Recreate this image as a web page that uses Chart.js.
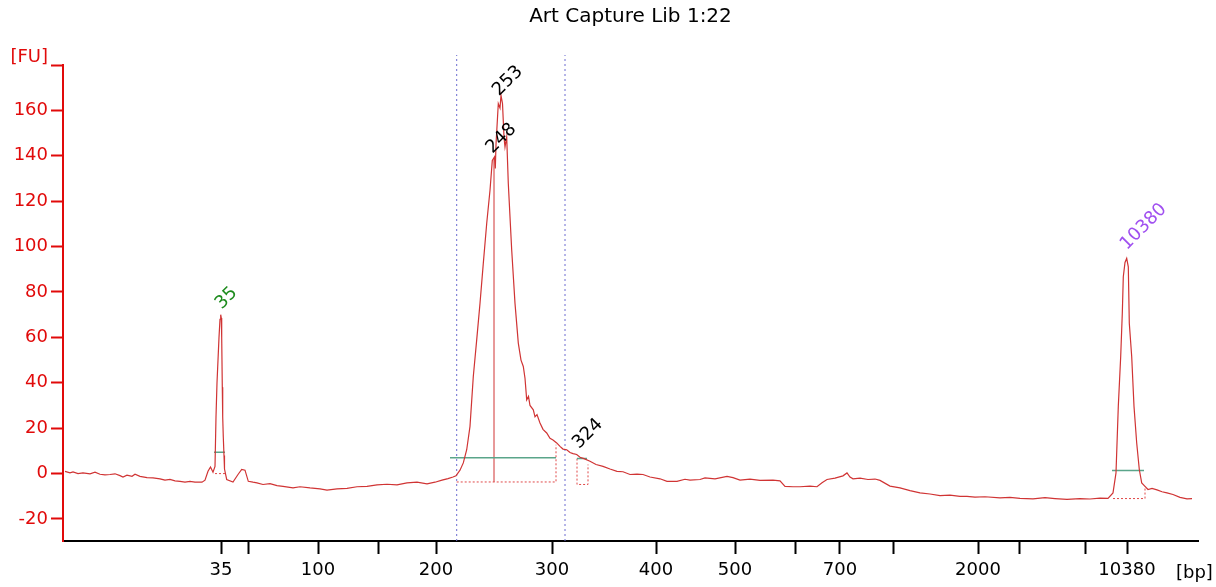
<!DOCTYPE html>
<html>
<head>
<meta charset="utf-8">
<script src="https://cdn.jsdelivr.net/npm/chart.js@4"></script>
<style>
  html, body { margin: 0; padding: 0; background: #fff; }
  #wrap { width: 1216px; height: 587px; }
</style>
</head>
<body>
<div id="wrap"><canvas id="myChart" width="1216" height="587"></canvas></div>
<script>
// electropherogram trace, x = scan position, y = fluorescence [FU]
var traceX = [2, 7, 10, 15, 20, 27, 32, 37, 42, 47, 52, 57, 60, 64, 69, 72, 77, 84, 90, 97,
  102, 107, 112, 117, 122, 127, 132, 139, 142, 145, 147.5, 150, 152, 153, 154, 156, 157, 157.7, 158.3, 158.7,
  159.3, 159.7, 160.3, 161, 161.5, 163.7, 170, 175, 178.7, 182, 185.3, 190, 194, 200, 207, 214, 220, 230, 237, 247,
  257, 264, 274, 284, 294, 304, 314, 324, 334, 344, 354, 364, 372, 379, 385, 390, 393, 397, 400.3, 403.7,
  407, 410.3, 413.7, 417, 420.3, 423.7, 427, 429.3, 431.5, 432.3, 433, 435.3, 437, 438, 439.5, 441, 442, 443.7, 445.3, 448.7,
  452, 455.3, 458, 460.3, 462, 463.7, 465.5, 467, 470.3, 472, 474, 477, 480, 483.7, 487, 490, 493.7, 497, 500, 503.7,
  507, 510, 513.7, 517, 521, 527, 533, 540, 547, 554, 560, 567, 574, 580, 587, 597, 604, 614, 622, 627,
  637, 642, 652, 664, 670, 677, 687, 697, 710, 717, 722, 730, 737, 747, 754, 759, 764, 772, 780, 784,
  787, 790, 797, 805, 812, 817, 827, 837, 847, 857, 867, 877, 887, 897, 904, 912, 922, 937, 947, 957,
  970, 982, 992, 1004, 1017, 1027, 1037, 1045, 1050, 1053, 1055.3, 1057.7, 1059.3, 1060.3, 1062, 1063.7, 1065.3, 1066.3, 1068.7, 1071,
  1073.7, 1076.3, 1078.7, 1082, 1085, 1089, 1094, 1099, 1104, 1110, 1117, 1124, 1129];
var traceFU = [1.0, 0.3, 0.7, 0.0, 0.3, -0.1, 0.6, -0.3, -0.6, -0.4, -0.1, -0.9, -1.5, -0.7, -1.2, -0.3, -1.2, -1.8, -1.9, -2.3,
  -2.9, -2.6, -3.2, -3.4, -3.8, -3.4, -3.8, -3.8, -2.9, 1.0, 2.9, 0.6, 3.2, 25, 40, 60, 68, 70, 68.5, 60,
  38, 25, 16, 8, 2, -2.6, -3.7, -0.4, 1.8, 1.5, -3.4, -3.8, -4.1, -4.8, -4.4, -5.3, -5.6, -6.3, -5.8, -6.3,
  -6.7, -7.3, -6.7, -6.5, -5.8, -5.6, -5.0, -4.7, -5.0, -4.1, -3.8, -4.5, -3.8, -2.9, -2.2, -1.5, -1.0, 1.5, 4.7, 10.5,
  20.8, 42.8, 58.9, 75, 92.6, 110.2, 124.8, 138, 139.5, 134.4, 145, 163, 161, 166.6, 163, 148.3, 143.9, 148.3, 127.8, 98.5,
  75, 57.5, 50, 47.2, 42, 32.5, 34, 30, 28.1, 25, 26, 22.3, 19.5, 17.9, 15.5, 14.8, 13.5, 12.0, 10.8, 10.5,
  9.3, 8.8, 8.4, 7.2, 6.6, 5.4, 4.0, 3.2, 2.0, 1.0, 0.8, -0.4, -0.2, -0.4, -1.5, -2.3, -3.4, -3.4, -2.5, -2.9,
  -2.6, -1.9, -2.3, -1.2, -1.8, -2.9, -2.4, -3.0, -2.9, -3.2, -5.6, -5.8, -5.8, -5.5, -5.8, -4.0, -2.6, -2.0, -1.0, 0.3,
  -1.5, -2.3, -2.0, -2.6, -2.4, -3.0, -5.5, -6.3, -7.5, -8.5, -9.0, -9.7, -9.5, -10.0, -10.0, -10.4, -10.2, -10.7, -10.5, -10.9,
  -11.1, -10.6, -11.0, -11.4, -11.0, -11.2, -10.8, -10.9, -8.5, 0.3, 29.6, 51.6, 70.6, 86.7, 93, 94.8, 91.1, 66.2, 51.6, 29.6,
  13.5, 1.8, -4.1, -5.6, -7.0, -6.5, -7.2, -8.0, -8.5, -9.2, -10.5, -11.1, -11.0];

// x axis: tick positions (scan position) and their size labels [bp]
var xTickPos = [158, 185, 255, 315, 373, 489, 593, 672, 732, 777, 830, 915, 956, 1022, 1064];
var xTickLabels = ['35', '', '100', '', '200', '300', '400', '500', '', '700', '', '2000', '', '', '10380'];
var yTickValues = [-20, 0, 20, 40, 60, 80, 100, 120, 140, 160, 180];

// called peaks
var peakNames = ['35', '248', '253', '324', '10380'];
var peakPos = [157.7, 431.5, 438, 517, 1063.7];
var peakFU = [70, 139.5, 166.6, 7.2, 94.8];

// region of interest
var regionFrom = 393.7;
var regionTo = 502;

// integration marks per peak
var peakLevel35 = 9.4, peakBase35 = 0;
var regionLevel = 7.0, regionBase = -3.7, regionEdgeTop = 12.7, regionSplitTop = 139;
var peakLevel324 = 6.6, peakBase324 = -4.8;
var peakLevel10380 = 1.4, peakBase10380 = -11.0, peakEdge10380 = -5.6;

var yMin = -29.7, yMax = 180;
var chartTitle = 'Art Capture Lib 1:22';

var FONT = "'DejaVu Sans', sans-serif";
var RED = '#e10a0a';
var TRACE = '#d03434';
var GREEN = '#5aa58a';

function xy(xs, ys) {
    return xs.map(function (x, i) { return { x: x, y: ys[i] }; });
}

var labelsPlugin = {
    id: 'peakLabels',
    afterDraw: function (chart) {
        var ctx = chart.ctx;
        var xs = chart.scales.x, ys = chart.scales.y;
        var area = chart.chartArea;
        var colors = ['#1e8c1e', '#000', '#000', '#000', '#a050f0'];
        var nudge = [[1, -5], [-2, -3], [-2, 1], [-1, -8], [0, -8]];
        ctx.save();
        ctx.font = '18px ' + FONT;
        for (var i = 0; i < peakNames.length; i++) {
            var px = xs.getPixelForValue(peakPos[i]) + nudge[i][0];
            var py = ys.getPixelForValue(peakFU[i]) + nudge[i][1];
            ctx.save();
            ctx.translate(px, py);
            ctx.rotate(-Math.PI / 4);
            ctx.fillStyle = colors[i];
            ctx.textAlign = 'left';
            ctx.textBaseline = 'alphabetic';
            ctx.fillText(peakNames[i], 0, 0);
            ctx.restore();
        }
        // axis units
        ctx.fillStyle = RED;
        ctx.textAlign = 'right';
        ctx.textBaseline = 'middle';
        ctx.fillText('[FU]', area.left - 15, area.top - 8);
        ctx.fillStyle = '#000';
        ctx.textAlign = 'left';
        ctx.fillText('[bp]', area.right - 22, area.bottom + 32);
        // title, centred over the plot area
        ctx.font = '20px ' + FONT;
        ctx.textAlign = 'center';
        ctx.fillText(chartTitle, (area.left + area.right) / 2, 17);
        ctx.restore();
    }
};

var ctx = document.getElementById('myChart').getContext('2d');
var myChart = new Chart(ctx, {
    type: 'line',
    data: {
        datasets: [{
            data: xy(traceX, traceFU),
            borderColor: TRACE,
            borderWidth: 1.2,
            pointRadius: 0,
            tension: 0
        }, {
            // region borders
            data: [{ x: regionFrom, y: yMin }, { x: regionFrom, y: 184.4 }, { x: NaN, y: NaN },
                   { x: regionTo, y: yMin }, { x: regionTo, y: 184.4 }],
            borderColor: '#6a6ad0',
            borderWidth: 1,
            borderDash: [2, 3],
            pointRadius: 0,
            spanGaps: false,
            clip: false
        }, {
            // peak heights (green)
            data: [{ x: 151, y: peakLevel35 }, { x: 162, y: peakLevel35 }, { x: NaN, y: NaN },
                   { x: 387, y: regionLevel }, { x: 493, y: regionLevel }, { x: NaN, y: NaN },
                   { x: 514, y: peakLevel324 }, { x: 524, y: peakLevel324 }, { x: NaN, y: NaN },
                   { x: 1049, y: peakLevel10380 }, { x: 1081, y: peakLevel10380 }],
            borderColor: GREEN,
            borderWidth: 1.5,
            pointRadius: 0,
            spanGaps: false
        }, {
            // integration baselines (dotted)
            data: [{ x: 152, y: peakBase35 }, { x: 162, y: peakBase35 }, { x: NaN, y: NaN },
                   { x: regionFrom, y: regionBase }, { x: 493, y: regionBase }, { x: 493, y: regionEdgeTop }, { x: NaN, y: NaN },
                   { x: 514, y: peakLevel324 }, { x: 514, y: peakBase324 }, { x: 525, y: peakBase324 }, { x: 525, y: 4 }, { x: NaN, y: NaN },
                   { x: 1050, y: peakBase10380 }, { x: 1082, y: peakBase10380 }, { x: 1082, y: peakEdge10380 }],
            borderColor: '#e04848',
            borderWidth: 1,
            borderDash: [2, 2],
            pointRadius: 0,
            spanGaps: false
        }, {
            // split between 248 and 253
            data: [{ x: 431, y: regionBase }, { x: 431, y: regionSplitTop }],
            borderColor: TRACE,
            borderWidth: 1,
            pointRadius: 0
        }]
    },
    options: {
        responsive: false,
        animation: false,
        layout: { padding: { left: 0, right: 18, top: 65, bottom: 0 } },
        plugins: {
            legend: { display: false },
            tooltip: { enabled: false },
            title: { display: false }
        },
        scales: {
            x: {
                type: 'linear',
                min: 0,
                max: 1135,
                afterBuildTicks: function (scale) {
                    scale.ticks = xTickPos.map(function (v) { return { value: v }; });
                },
                afterFit: function (scale) { scale.height = 46; },
                ticks: {
                    autoSkip: false,
                    maxRotation: 0,
                    padding: 6,
                    color: '#000',
                    font: { family: FONT, size: 18 },
                    callback: function (value, index) { return xTickLabels[index]; }
                },
                grid: { drawOnChartArea: false, drawTicks: true, tickLength: 13, tickColor: '#000', tickWidth: 2 },
                border: { color: '#000', width: 2 }
            },
            y: {
                type: 'linear',
                min: yMin,
                max: yMax,
                afterBuildTicks: function (scale) {
                    scale.ticks = yTickValues.map(function (v) { return { value: v }; });
                },
                afterFit: function (scale) { scale.width = 63; },
                ticks: {
                    padding: 3,
                    color: RED,
                    font: { family: FONT, size: 18 },
                    callback: function (value) { return value === 180 ? '' : String(value); }
                },
                grid: { drawOnChartArea: false, drawTicks: true, tickLength: 12, tickColor: RED, tickWidth: 2 },
                border: { color: RED, width: 2 }
            }
        }
    },
    plugins: [labelsPlugin]
});
</script>
</body>
</html>
